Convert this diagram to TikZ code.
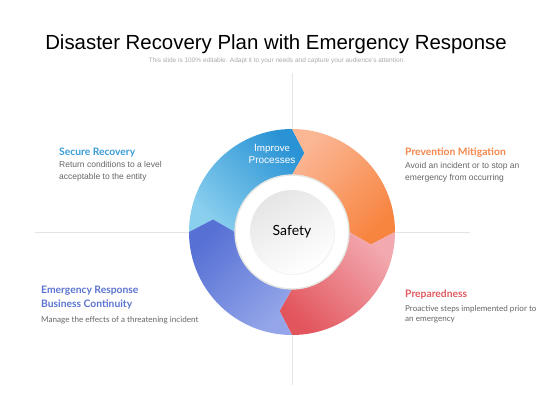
\documentclass[tikz,border=0pt]{standalone}
\usepackage{fontspec}
\setmainfont{Liberation Sans}
\newfontfamily\headfont{Lato}
\usepackage{tikz}
\usetikzlibrary{calc,positioning,shadows}

\definecolor{blueDark}{HTML}{2A93D5}
\definecolor{blueLight}{HTML}{8ACFEE}
\definecolor{orangeLight}{HTML}{FBB694}
\definecolor{orangeDark}{HTML}{F7843F}
\definecolor{pinkLight}{HTML}{F2A9AF}
\definecolor{pinkDark}{HTML}{E3555D}
\definecolor{purpleDark}{HTML}{5670D4}
\definecolor{purpleLight}{HTML}{94A6E9}
\definecolor{headBlue}{HTML}{3A9DDA}
\definecolor{headOrange}{HTML}{F4874B}
\definecolor{headPurple}{HTML}{5B74CF}
\definecolor{headRed}{HTML}{E05A60}
\definecolor{bodyGray}{HTML}{666666}
\definecolor{guideGray}{HTML}{E4E4E4}
\definecolor{ringGray}{HTML}{E6E6E2}

\begin{document}
\begin{tikzpicture}[x=1pt,y=1pt,
heading/.style={anchor=west,inner sep=0pt,align=left,
  font=\headfont\bfseries\fontsize{10.3}{14.3}\selectfont},
body/.style={anchor=west,inner sep=0pt,align=left,text=bodyGray,
  font=\fontsize{8.5}{11.5}\selectfont},
guide/.style={draw=guideGray,line width=0.6pt}]

\useasboundingbox (0,0) rectangle (560,420);
\fill[white] (0,0) rectangle (560,420);

% title
\node (title) at (276,376) {\fontsize{20.4}{24}\selectfont Disaster Recovery Plan with Emergency Response};
\node (subtitle) at (277,359.5) [text=black!33] {\fontsize{6.5}{8}\selectfont This slide is 100\% editable. Adapt it to your needs and capture your audience's attention.};

% guide lines
\coordinate (gtop) at (292,347);
\coordinate (gbot) at (292,35);
\coordinate (gleft) at (35,188);
\coordinate (gright) at (470,188);
\draw[guide] (gtop) -- (gbot);
\draw[guide] (gleft) -- (gright);

% ring of arrows
\begin{scope}[shift={(292,188)}]
\shade[bottom color=blueLight,top color=blueDark,shading angle=-45]
  (180:103) arc[start angle=180,end angle=90,radius=103] -- (81:80) -- (90:57)
  arc[start angle=90,end angle=180,radius=57] -- (171:80) -- cycle;
\shade[top color=orangeLight,bottom color=orangeDark,shading angle=45]
  (90:103) arc[start angle=90,end angle=0,radius=103] -- (-9:80) -- (0:57)
  arc[start angle=0,end angle=90,radius=57] -- (81:80) -- cycle;
\shade[top color=pinkLight,bottom color=pinkDark,shading angle=-45]
  (0:103) arc[start angle=0,end angle=-90,radius=103] -- (-99:80) -- (-90:57)
  arc[start angle=-90,end angle=0,radius=57] -- (-9:80) -- cycle;
\shade[top color=purpleDark,bottom color=purpleLight,shading angle=45]
  (-90:103) arc[start angle=-90,end angle=-180,radius=103] -- (-189:80) -- (-180:57)
  arc[start angle=-180,end angle=-90,radius=57] -- (-99:80) -- cycle;

\node (ring) at (0,0) [circle,fill=white,draw=ringGray,line width=1.4pt,minimum size=114pt,
  drop shadow={opacity=0.12,shadow xshift=0.8pt,shadow yshift=-0.8pt}] {};
\node (safety) at (0,0) [circle,minimum size=84pt,top color=black!10,bottom color=white,shading angle=30,
  drop shadow={opacity=0.1,shadow xshift=1pt,shadow yshift=-1pt}]
  {\headfont\fontsize{14}{16}\selectfont Safety};
\end{scope}

\node (improve) at (272,266) [align=center,text=white] {\headfont\fontsize{10}{13}\selectfont Improve\\Processes};

% side texts
\node (secure) at (59,267) [heading,text=headBlue] {Secure Recovery};
\node (secureTxt) at (59,248.7) [body] {Return conditions to a level\\acceptable to the entity};

\node (prevent) at (405,267.3) [heading,text=headOrange] {Prevention Mitigation};
\node (preventTxt) at (405,248) [body,font=\fontsize{8.5}{12}\selectfont] {Avoid an incident or to stop an\\emergency from occurring};

\node (emerg) at (41,122.2) [heading,text=headPurple] {Emergency Response\\Business Continuity};
\node (emergTxt) at (41,99.3) [body,font=\headfont\fontsize{8.1}{11}\selectfont] {Manage the effects of a threatening incident};

\node (prep) at (405,125) [heading,text=headRed] {Preparedness};
\node (prepTxt) at (405,105.5) [body,font=\headfont\fontsize{8.1}{10.5}\selectfont] {Proactive steps implemented prior to\\an emergency};

\end{tikzpicture}
\end{document}
